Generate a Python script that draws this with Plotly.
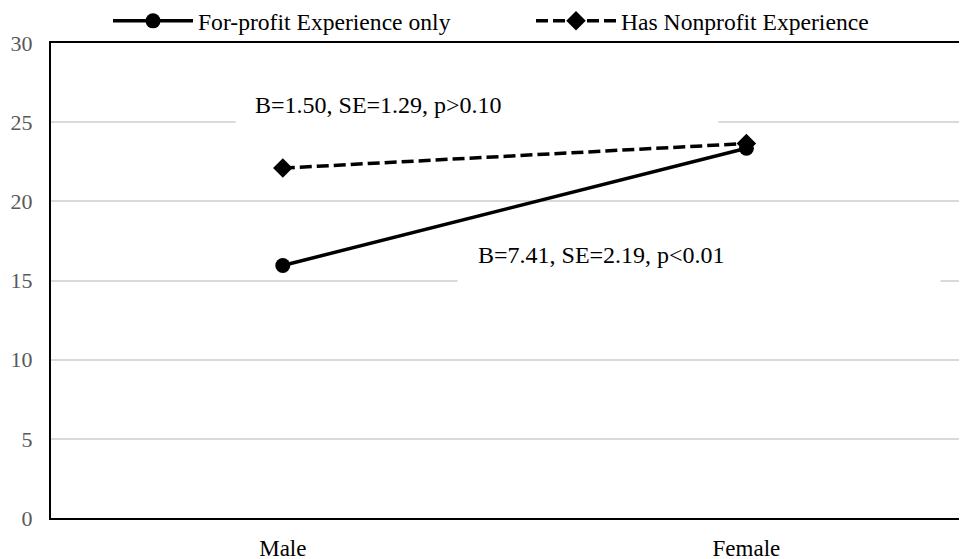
import plotly.graph_objects as go

categories = ["Male", "Female"]
forprofit_only = [15.95, 23.35]
has_nonprofit = [22.1, 23.65]
y_ticks = [0, 5, 10, 15, 20, 25, 30]
annot_top = "B=1.50, SE=1.29, p>0.10"
annot_bottom = "B=7.41, SE=2.19, p<0.01"

# page body adds an 8px offset; lay out in screen pixels and compensate
OFF = 8
SW, SH = 967, 559
W, H = SW - OFF, SH - OFF
L, T = 51 - OFF, 43 - OFF
R, B = 0, SH - 518
pw, ph = W - L - R, H - T - B

def px_x(p):
    return (p - OFF - L) / pw

def px_y(p):
    return (H - B - (p - OFF)) / ph

FONT = "Liberation Serif"

fig = go.Figure()
fig.add_trace(go.Scatter(
    x=categories, y=forprofit_only, name="For-profit Experience only",
    mode="lines+markers",
    line=dict(color="black", width=3.5),
    marker=dict(symbol="circle", size=15, color="black"),
))
fig.add_trace(go.Scatter(
    x=categories, y=has_nonprofit, name="Has Nonprofit Experience",
    mode="lines+markers",
    line=dict(color="black", width=3.5, dash="12px,5px"),
    marker=dict(symbol="diamond", size=15, color="black"),
))

# white text-box backgrounds (hide gridlines behind annotation text)
for (x0, x1, y0, y1) in [(235, 717, 82, 130), (457, 939, 232, 284)]:
    fig.add_annotation(text=" ", xref="paper", yref="paper",
                       x=px_x(x0), y=px_y(y0), xanchor="left", yanchor="top",
                       width=x1 - x0, height=y1 - y0, borderpad=0,
                       bgcolor="white", showarrow=False,
                       font=dict(family=FONT, size=10))

fig.add_annotation(text=annot_top, xref="paper", yref="paper",
                   x=px_x(253), y=px_y(105), xanchor="left", yanchor="middle",
                   showarrow=False, font=dict(family=FONT, size=24, color="black"))
fig.add_annotation(text=annot_bottom, xref="paper", yref="paper",
                   x=px_x(476), y=px_y(255), xanchor="left", yanchor="middle",
                   showarrow=False, font=dict(family=FONT, size=24, color="black"))

fig.update_layout(
    width=W, height=H,
    margin=dict(l=L, r=R, t=T, b=B, pad=0, autoexpand=False),
    paper_bgcolor="white", plot_bgcolor="white",
    font=dict(family=FONT, size=23, color="black"),
    showlegend=True,
    legend=dict(orientation="h", xref="container", yref="container",
                x=(108 - OFF) / W, y=1 - (21 - OFF) / H,
                xanchor="left", yanchor="middle",
                font=dict(family=FONT, size=23.6, color="black"),
                itemwidth=80, entrywidth=328, entrywidthmode="pixels",
                tracegroupgap=0, bgcolor="rgba(0,0,0,0)"),
    xaxis=dict(
        type="category", range=[-0.5, -0.5 + pw / 463.6],
        showgrid=False, showline=True, linecolor="black", linewidth=2,
        mirror=True, ticks="", ticklabelstandoff=8, automargin=False,
        tickfont=dict(family=FONT, size=23, color="black"),
        fixedrange=True,
    ),
    yaxis=dict(
        range=[0, 30], tickvals=y_ticks, ticktext=[str(v) for v in y_ticks],
        showgrid=True, gridcolor="#d9d9d9", gridwidth=1.5,
        showline=True, linecolor="black", linewidth=2, mirror=False,
        zeroline=False, ticks="", ticklabelstandoff=12, automargin=False,
        tickfont=dict(family=FONT, size=22, color="#595959"),
        fixedrange=True,
    ),
)

fig.write_html("out.html")
